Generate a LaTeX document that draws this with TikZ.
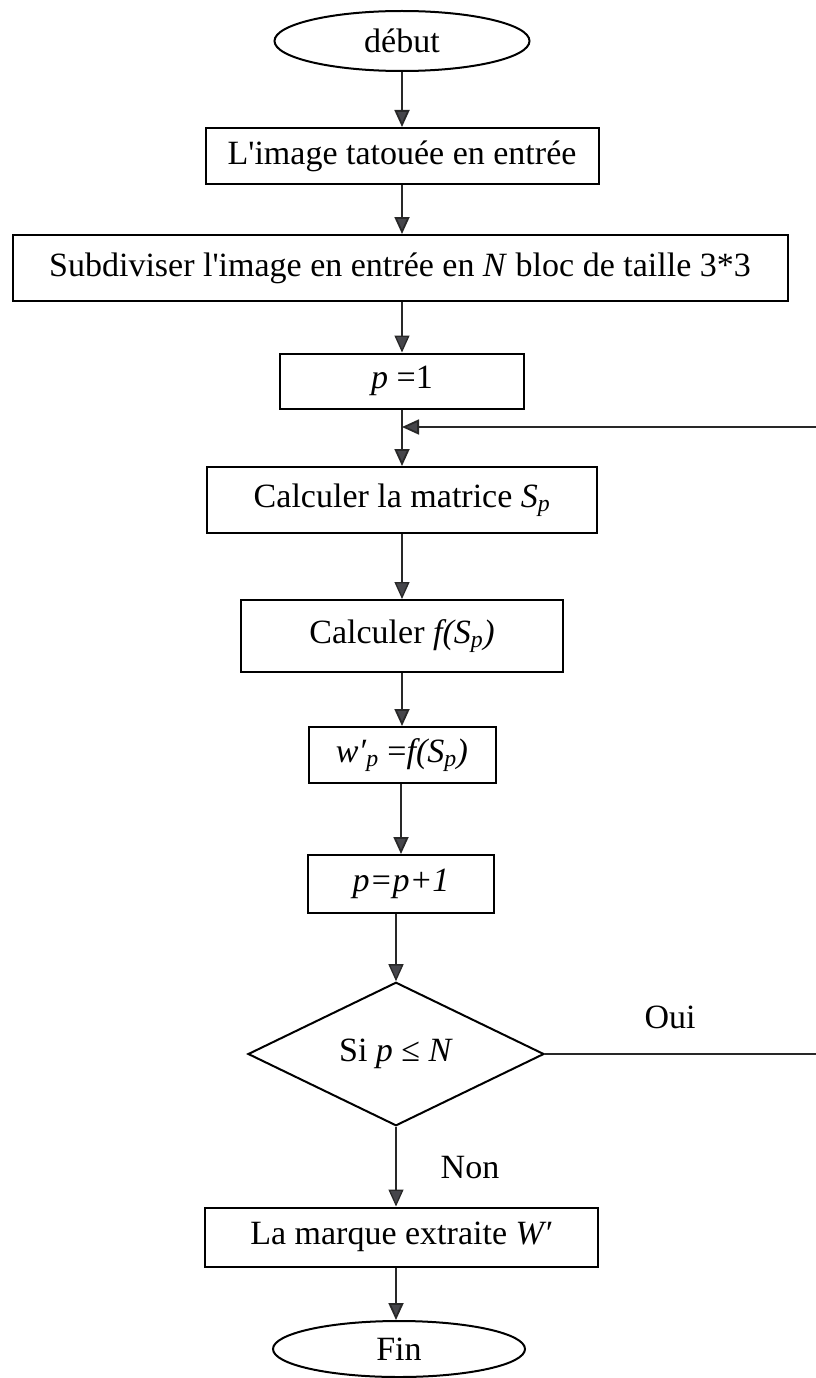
\documentclass[tikz,border=0pt]{standalone}
\usepackage{fontspec}
\setmainfont{Liberation Serif}
\usepackage{xcolor}
\usepackage{tikz}
\usetikzlibrary{arrows.meta, positioning, shapes.geometric}
\definecolor{tipgray}{RGB}{70,70,75}
\definecolor{linkgray}{RGB}{40,40,40}

\begin{document}
\begin{tikzpicture}[
  x=1pt, y=-1pt,
  font=\fontsize{34}{40}\selectfont,
  stepbox/.style={draw, line width=2pt, inner sep=0pt, align=center},
  term/.style={draw, ellipse, line width=2pt, inner sep=0pt,
    minimum width=255pt, minimum height=60pt},
  test/.style={draw, diamond, line width=2pt, inner sep=0pt,
    minimum width=296pt, minimum height=139pt},
  arr/.style={-{Triangle[length=17pt, width=15pt, fill=tipgray]}, line width=1.8pt, draw=linkgray},
  arrthin/.style={arr, line width=1.3pt}
]
  \useasboundingbox (0,0) rectangle (815,1378);

  \node[term] (debut) at (402,41) {début};
  \node[stepbox, minimum width=393pt, minimum height=56pt] (entree) at (402,156)
    {L\textquotesingle image tatouée en entrée};
  \node[stepbox, minimum width=775pt, minimum height=66pt] (subdiv) at (400,268)
    {Subdiviser l\textquotesingle image en entrée en \textit{N} bloc de taille 3*3};
  \node[stepbox, minimum width=244pt, minimum height=55pt] (init) at (402,381)
    {\textit{p} =1};
  \coordinate (join) at (402,427);
  \node[stepbox, minimum width=390pt, minimum height=66pt] (matS) at (402,500)
    {Calculer la matrice \textit{S}\textsubscript{\textit{p}}};
  \node[stepbox, minimum width=322pt, minimum height=72pt] (calcf) at (402,636)
    {Calculer \textit{f(S}\textsubscript{\textit{p}}\textit{)}};
  \node[stepbox, minimum width=187pt, minimum height=56pt] (wp) at (402,755)
    {\textit{w′}\textsubscript{\textit{p}} =\textit{f(S}\textsubscript{\textit{p}}\textit{)}};
  \node[stepbox, minimum width=186pt, minimum height=58pt] (incr) at (401,884)
    {\textit{p=p+1}};
  \node[test] (cond) at (396,1054) {Si \textit{p} ≤ \textit{N}};
  \node[stepbox, minimum width=393pt, minimum height=59pt] (marque) at (401,1237)
    {La marque extraite \textit{W′}};
  \node[term, minimum width=252pt, minimum height=56pt] (fin) at (399,1349) {Fin};

  \coordinate (rgt) at (824,1054);

  \draw[arr] (debut) -- (entree);
  \draw[arr] (entree) -- (subdiv.north -| entree);
  \draw[arrthin] (subdiv.south -| init) -- (init);
  \draw[line width=1.8pt, draw=linkgray] (init) -- (join);
  \draw[arr] (join) -- (matS.north -| join);
  \draw[arrthin] (matS.south -| join) -- (calcf.north -| join);
  \draw[arr] (calcf) -- (wp);
  \draw[arr] (wp.south -| incr) -- (incr);
  \draw[arrthin] (incr.south -| cond) -- (cond);
  \draw[arrthin] (cond) -- (marque.north -| cond);
  \draw[arr] (marque.south -| cond) -- (fin.north -| cond);
  % boucle Oui
  \draw[arr] (cond.east) -- (rgt) |- (join);

  \node (oui) at (670,1017) {Oui};
  \node (non) at (470,1168) {Non};
\end{tikzpicture}
\end{document}
